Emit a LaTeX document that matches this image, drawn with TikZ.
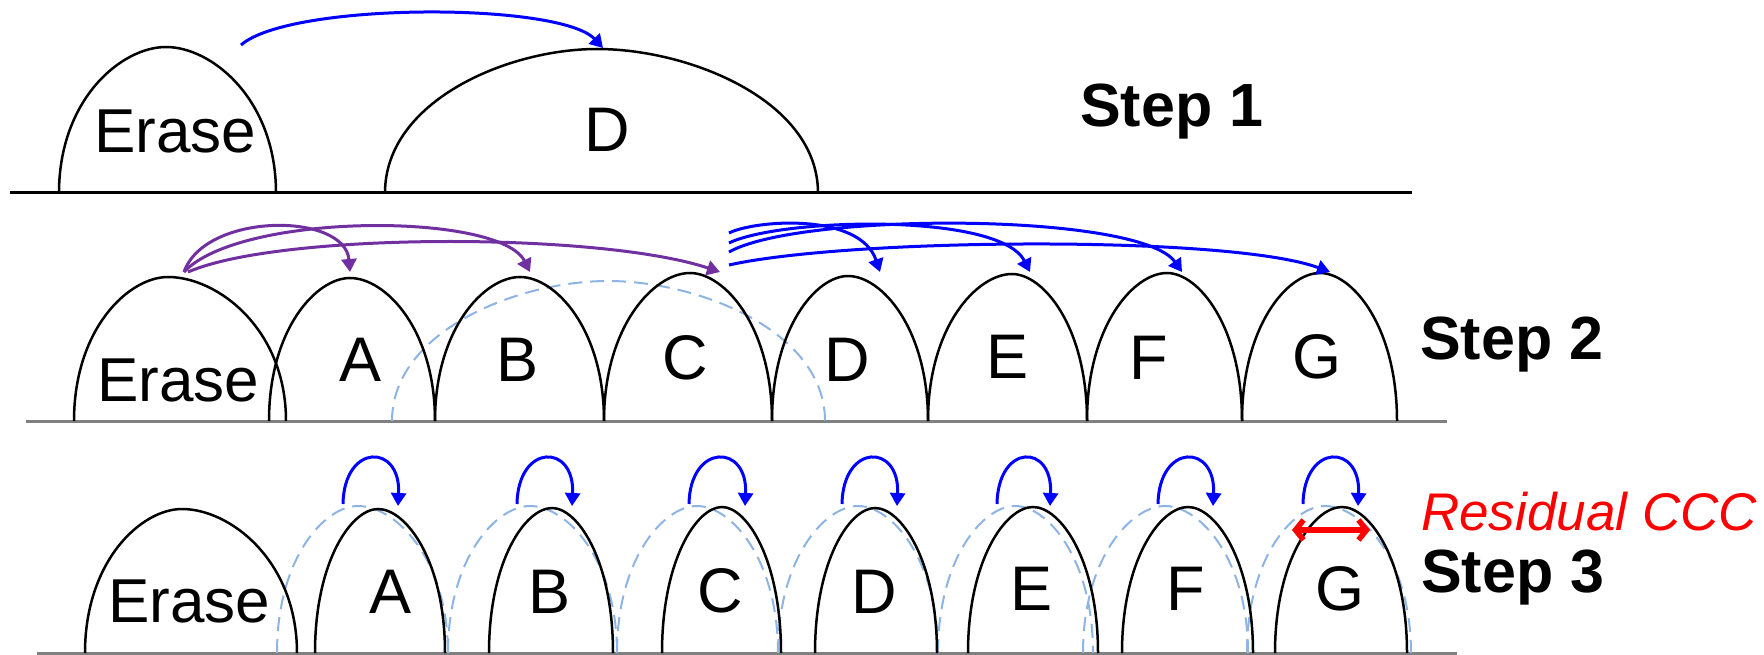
\documentclass[tikz,border=0pt]{standalone}
\usepackage{fontspec}
\setmainfont{Liberation Sans}
\usetikzlibrary{arrows.meta}
\definecolor{purp}{HTML}{7030A0}
\definecolor{lblue}{HTML}{8EB4E3}
\definecolor{gline}{HTML}{808080}
% style, x left foot, x apex, x right foot, y top, y base
\newcommand{\archdraw}[6]{%
  \draw[#1] (#2,#6) .. controls (#2,{#6-0.64*(#6-#5)}) and ({#3-0.42*(#3-#2)},#5) .. (#3,#5)
    .. controls ({#3+0.42*(#4-#3)},#5) and (#4,{#6-0.64*(#6-#5)}) .. (#4,#6);}
\begin{document}
\begin{tikzpicture}[x=1pt,y=-1pt,
  arch/.style={line width=2.5pt, black},
  darch/.style={line width=2pt, lblue, dash pattern=on 14pt off 8pt},
  bline/.style={line width=3pt, black},
  gbase/.style={line width=3pt, gline},
  barr/.style={line width=3pt, blue, -{Triangle[length=13pt,width=15pt]}},
  parr/.style={line width=3pt, purp, -{Triangle[length=13pt,width=15pt]}},
  letter/.style={anchor=base, inner sep=0pt, font=\fontsize{63}{63}\selectfont},
  word/.style={anchor=base, inner sep=0pt, font=\fontsize{62}{62}\selectfont},
  steplbl/.style={anchor=base west, inner sep=0pt, font=\fontsize{61}{61}\selectfont\bfseries},
  redlbl/.style={anchor=base west, inner sep=0pt, text=red, font=\fontsize{53}{53}\selectfont\itshape},
]
\useasboundingbox (0,0) rectangle (1764,655);

% ---------------- Step 1
\draw[bline] (10,193) -- (1412,193);
\archdraw{arch}{59}{166}{276}{47}{193}
\archdraw{arch}{385}{597}{818}{49}{193}
\node[word] (e1) at (175,153) {Erase};
\node[letter] (d1) at (607,152) {D};
\node[steplbl] (s1) at (1080,127) {Step 1};
\coordinate (a1s) at (241,45);
\coordinate (a1t) at (603,48);
\draw[barr] (a1s) .. controls (290,2) and (560,2) .. (a1t);

% ---------------- Step 2
\draw[gbase] (26,421) -- (1447,421);
\archdraw{darch}{392}{608}{825}{281}{421}
\archdraw{arch}{74}{168}{286}{277}{421}
\archdraw{arch}{269}{350}{435}{278}{421}
\archdraw{arch}{435}{520}{604}{277}{421}
\archdraw{arch}{604}{690}{772}{273}{421}
\archdraw{arch}{772}{848}{928}{276}{421}
\archdraw{arch}{928}{1012}{1087}{274}{421}
\archdraw{arch}{1087}{1167}{1242}{273}{421}
\archdraw{arch}{1242}{1320}{1397}{273}{421}
\node[word] (e2) at (178,401) {Erase};
\node[letter] (a2) at (361,381) {A};
\node[letter] (b2) at (518,381) {B};
\node[letter] (c2) at (685,379) {C};
\node[letter] (d2) at (847,381) {D};
\node[letter] (ee2) at (1007,378) {E};
\node[letter] (f2) at (1149,379) {F};
\node[letter] (g2) at (1317,378) {G};
\node[steplbl] (s2) at (1420,359) {Step 2};
% purple arrows from Erase
\coordinate (p0) at (184,272);
\coordinate (p1) at (188,272);
\coordinate (tA) at (350,272);
\coordinate (tB) at (530,272);
\coordinate (tC) at (720,272);
\draw[parr] (p0) .. controls (205,212) and (345,212) .. (tA);
\draw[parr] (p0) .. controls (240,212) and (500,212) .. (tB);
\draw[parr] (p1) .. controls (280,232) and (600,232) .. (tC);
% blue arrows (cut at x = 729)
\coordinate (q1) at (729,233);
\coordinate (q2) at (729,243);
\coordinate (q3) at (729,252);
\coordinate (q4) at (729,265);
\coordinate (tD) at (880,272);
\coordinate (tE) at (1030,272);
\coordinate (tF) at (1182,272);
\coordinate (tG) at (1330,272);
\draw[barr] (q1) .. controls (755,220) and (860,212) .. (tD);
\draw[barr] (q2) .. controls (780,218) and (1000,212) .. (tE);
\draw[barr] (q3) .. controls (800,212) and (1140,212) .. (tF);
\draw[barr] (q4) .. controls (850,238) and (1230,235) .. (tG);

% ---------------- Step 3
\draw[gbase] (37,653) -- (1457,653);
\archdraw{darch}{277}{358}{448}{506}{653}
\archdraw{darch}{448}{530}{617}{506}{653}
\archdraw{darch}{617}{697}{778}{506}{653}
\archdraw{darch}{778}{858}{938}{506}{653}
\archdraw{darch}{938}{1015}{1093}{506}{653}
\archdraw{darch}{1083}{1165}{1248}{506}{653}
\archdraw{darch}{1247}{1325}{1411}{506}{653}
\archdraw{arch}{85}{182}{297}{509}{653}
\archdraw{arch}{315}{378}{445}{509}{653}
\archdraw{arch}{489}{552}{613}{508}{653}
\archdraw{arch}{662}{722}{781}{507}{653}
\archdraw{arch}{815}{875}{937}{508}{653}
\archdraw{arch}{968}{1033}{1098}{507}{653}
\archdraw{arch}{1122}{1188}{1253}{507}{653}
\archdraw{arch}{1275}{1342}{1407}{507}{653}
\node[word] (e3) at (189,622) {Erase};
\node[letter] (a3) at (391,613) {A};
\node[letter] (b3) at (550,613) {B};
\node[letter] (c3) at (720,612) {C};
\node[letter] (d3) at (874,613) {D};
\node[letter] (ee3) at (1031,610) {E};
\node[letter] (f3) at (1186,610) {F};
\node[letter] (g3) at (1340,610) {G};
\node[redlbl] (rc) at (1421,530) {Residual CCC};
\node[steplbl] (s3) at (1421,592) {Step 3};
% loop arrows
\foreach \s/\t/\n in {343/398/A,517/572/B,689/745/C,842/897/D,997/1050/E,1158/1213/F,1303/1358/G}{
  \coordinate (ls\n) at (\s,504);
  \coordinate (lt\n) at (\t,506);
  \draw[barr] (ls\n) .. controls (\s+1,443) and (\t+3,443) .. (lt\n);
}
% residual arrow
\coordinate (r1) at (1292,530);
\coordinate (r2) at (1370,530);
\draw[red, line width=5.5pt, line cap=round,
  {Straight Barb[length=8pt,width=20pt]}-{Straight Barb[length=8pt,width=20pt]}] (r1) -- (r2);
\end{tikzpicture}
\end{document}
